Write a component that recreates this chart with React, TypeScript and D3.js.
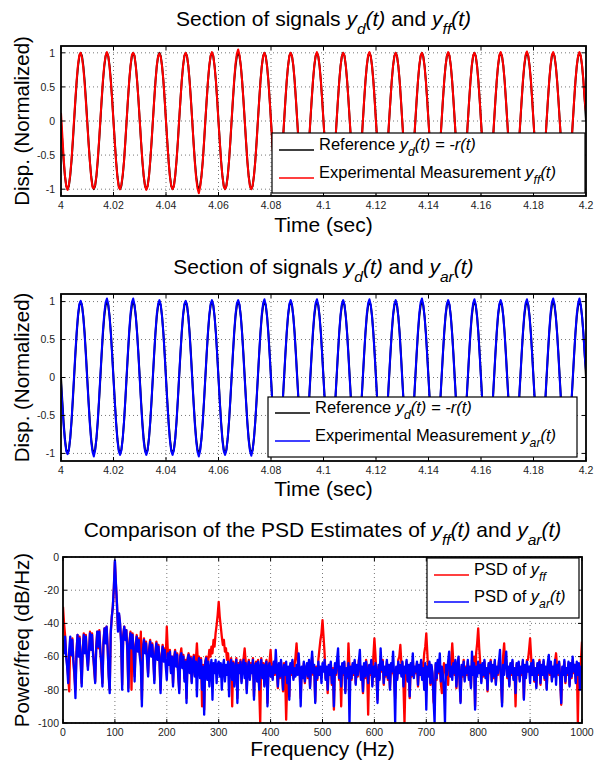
import React from 'react';
import * as d3 from 'd3';

const FONT = '"Liberation Sans", Arial, Helvetica, sans-serif';

// ---- time-domain section, samples every 0.5 ms from 4.0 s to 4.2 s ----
const refSignal = [
  0, -0.31, -0.59, -0.81, -0.95, -1, -0.95, -0.81, -0.59, -0.31, 0, 0.31, 0.59, 0.81, 0.95, 1, 0.95, 0.81, 0.59, 0.31,
  0, -0.31, -0.59, -0.81, -0.95, -1, -0.95, -0.81, -0.59, -0.31, 0, 0.31, 0.59, 0.81, 0.95, 1, 0.95, 0.81, 0.59, 0.31,
  0, -0.31, -0.59, -0.81, -0.95, -1, -0.95, -0.81, -0.59, -0.31, 0, 0.31, 0.59, 0.81, 0.95, 1, 0.95, 0.81, 0.59, 0.31,
  0, -0.31, -0.59, -0.81, -0.95, -1, -0.95, -0.81, -0.59, -0.31, 0, 0.31, 0.59, 0.81, 0.95, 1, 0.95, 0.81, 0.59, 0.31,
  0, -0.31, -0.59, -0.81, -0.95, -1, -0.95, -0.81, -0.59, -0.31, 0, 0.31, 0.59, 0.81, 0.95, 1, 0.95, 0.81, 0.59, 0.31,
  0, -0.31, -0.59, -0.81, -0.95, -1, -0.95, -0.81, -0.59, -0.31, 0, 0.31, 0.59, 0.81, 0.95, 1, 0.95, 0.81, 0.59, 0.31,
  0, -0.31, -0.59, -0.81, -0.95, -1, -0.95, -0.81, -0.59, -0.31, 0, 0.31, 0.59, 0.81, 0.95, 1, 0.95, 0.81, 0.59, 0.31,
  0, -0.31, -0.59, -0.81, -0.95, -1, -0.95, -0.81, -0.59, -0.31, 0, 0.31, 0.59, 0.81, 0.95, 1, 0.95, 0.81, 0.59, 0.31,
  0, -0.31, -0.59, -0.81, -0.95, -1, -0.95, -0.81, -0.59, -0.31, 0, 0.31, 0.59, 0.81, 0.95, 1, 0.95, 0.81, 0.59, 0.31,
  0, -0.31, -0.59, -0.81, -0.95, -1, -0.95, -0.81, -0.59, -0.31, 0, 0.31, 0.59, 0.81, 0.95, 1, 0.95, 0.81, 0.59, 0.31,
  0, -0.31, -0.59, -0.81, -0.95, -1, -0.95, -0.81, -0.59, -0.31, 0, 0.31, 0.59, 0.81, 0.95, 1, 0.95, 0.81, 0.59, 0.31,
  0, -0.31, -0.59, -0.81, -0.95, -1, -0.95, -0.81, -0.59, -0.31, 0, 0.31, 0.59, 0.81, 0.95, 1, 0.95, 0.81, 0.59, 0.31,
  0, -0.31, -0.59, -0.81, -0.95, -1, -0.95, -0.81, -0.59, -0.31, 0, 0.31, 0.59, 0.81, 0.95, 1, 0.95, 0.81, 0.59, 0.31,
  0, -0.31, -0.59, -0.81, -0.95, -1, -0.95, -0.81, -0.59, -0.31, 0, 0.31, 0.59, 0.81, 0.95, 1, 0.95, 0.81, 0.59, 0.31,
  0, -0.31, -0.59, -0.81, -0.95, -1, -0.95, -0.81, -0.59, -0.31, 0, 0.31, 0.59, 0.81, 0.95, 1, 0.95, 0.81, 0.59, 0.31,
  0, -0.31, -0.59, -0.81, -0.95, -1, -0.95, -0.81, -0.59, -0.31, 0, 0.31, 0.59, 0.81, 0.95, 1, 0.95, 0.81, 0.59, 0.31,
  0, -0.31, -0.59, -0.81, -0.95, -1, -0.95, -0.81, -0.59, -0.31, 0, 0.31, 0.59, 0.81, 0.95, 1, 0.95, 0.81, 0.59, 0.31,
  0, -0.31, -0.59, -0.81, -0.95, -1, -0.95, -0.81, -0.59, -0.31, 0, 0.31, 0.59, 0.81, 0.95, 1, 0.95, 0.81, 0.59, 0.31,
  0, -0.31, -0.59, -0.81, -0.95, -1, -0.95, -0.81, -0.59, -0.31, 0, 0.31, 0.59, 0.81, 0.95, 1, 0.95, 0.81, 0.59, 0.31,
  0, -0.31, -0.59, -0.81, -0.95, -1, -0.95, -0.81, -0.59, -0.31, 0, 0.31, 0.59, 0.81, 0.95, 1, 0.95, 0.81, 0.59, 0.31,
  0,
];

const ffSignal = [
  0.12, -0.2, -0.53, -0.8, -0.96, -1.01, -0.94, -0.79, -0.57, -0.28, 0.04, 0.34, 0.62, 0.84, 0.97, 1.0, 0.93, 0.78, 0.55, 0.27,
  -0.03, -0.33, -0.6, -0.83, -0.97, -0.99, -0.94, -0.8, -0.56, -0.29, 0.02, 0.33, 0.61, 0.83, 0.96, 1.01, 0.95, 0.79, 0.57, 0.3,
  -0.02, -0.32, -0.61, -0.83, -0.97, -1.0, -0.93, -0.79, -0.6, -0.3, 0.01, 0.32, 0.6, 0.82, 0.97, 1.0, 0.96, 0.8, 0.58, 0.32,
  0.01, -0.3, -0.58, -0.8, -0.95, -1.01, -0.96, -0.82, -0.58, -0.3, 0, 0.3, 0.58, 0.82, 0.95, 0.99, 0.94, 0.8, 0.6, 0.31,
  -0.01, -0.31, -0.6, -0.82, -0.95, -1.0, -0.96, -0.8, -0.58, -0.32, 0.01, 0.31, 0.59, 0.8, 0.96, 1.0, 0.95, 0.81, 0.58, 0.3,
  0, -0.33, -0.62, -0.85, -0.99, -1.06, -0.97, -0.82, -0.6, -0.3, 0.02, 0.31, 0.6, 0.82, 0.96, 1.01, 0.96, 0.8, 0.6, 0.3,
  -0.02, -0.31, -0.6, -0.81, -0.96, -1.0, -0.95, -0.82, -0.59, -0.3, 0.02, 0.33, 0.62, 0.85, 0.99, 1.05, 0.97, 0.81, 0.58, 0.3,
  0, -0.3, -0.6, -0.82, -0.96, -1.0, -0.95, -0.8, -0.6, -0.32, 0, 0.3, 0.59, 0.8, 0.95, 1.0, 0.94, 0.8, 0.59, 0.3,
  -0.01, -0.32, -0.6, -0.81, -0.95, -1.01, -0.95, -0.81, -0.58, -0.3, 0.01, 0.32, 0.6, 0.81, 0.96, 1.0, 0.95, 0.82, 0.6, 0.31,
  0, -0.31, -0.59, -0.8, -0.94, -0.99, -0.94, -0.8, -0.58, -0.3, 0.02, 0.32, 0.6, 0.82, 0.96, 1.01, 0.95, 0.8, 0.58, 0.3,
  -0.01, -0.32, -0.6, -0.82, -0.96, -1.0, -0.94, -0.81, -0.59, -0.31, 0.01, 0.31, 0.58, 0.81, 0.95, 1.0, 0.96, 0.81, 0.59, 0.31,
  0.01, -0.3, -0.59, -0.81, -0.95, -0.99, -0.95, -0.81, -0.6, -0.31, 0, 0.32, 0.6, 0.82, 0.97, 1.01, 0.95, 0.8, 0.58, 0.29,
  -0.02, -0.32, -0.61, -0.82, -0.96, -1.01, -0.95, -0.8, -0.58, -0.3, 0.01, 0.31, 0.59, 0.81, 0.95, 1.0, 0.95, 0.81, 0.6, 0.31,
  0, -0.31, -0.6, -0.81, -0.95, -1.0, -0.96, -0.82, -0.59, -0.3, 0.02, 0.33, 0.6, 0.82, 0.96, 1.0, 0.94, 0.8, 0.58, 0.3,
  -0.01, -0.31, -0.59, -0.8, -0.95, -1.0, -0.94, -0.8, -0.58, -0.31, 0.01, 0.32, 0.6, 0.81, 0.96, 1.01, 0.96, 0.81, 0.59, 0.3,
  0, -0.32, -0.6, -0.82, -0.96, -1.01, -0.95, -0.81, -0.6, -0.31, 0, 0.31, 0.59, 0.82, 0.96, 1.0, 0.95, 0.8, 0.58, 0.31,
  -0.01, -0.31, -0.59, -0.81, -0.95, -0.99, -0.94, -0.8, -0.59, -0.3, 0.01, 0.32, 0.6, 0.82, 0.97, 1.01, 0.95, 0.81, 0.59, 0.3,
  0, -0.31, -0.6, -0.82, -0.96, -1.0, -0.95, -0.81, -0.58, -0.3, 0.02, 0.32, 0.61, 0.83, 0.97, 1.02, 0.96, 0.81, 0.6, 0.31,
  -0.01, -0.32, -0.6, -0.82, -0.96, -1.01, -0.95, -0.8, -0.59, -0.31, 0.01, 0.32, 0.6, 0.82, 0.97, 1.01, 0.95, 0.8, 0.58, 0.3,
  0, -0.31, -0.59, -0.81, -0.95, -1.0, -0.95, -0.81, -0.59, -0.3, 0.01, 0.32, 0.6, 0.82, 0.96, 1.01, 0.96, 0.82, 0.6, 0.31,
  0.14,
];

const arSignal = [
  -0.08, -0.36, -0.63, -0.84, -0.97, -1.01, -0.96, -0.8, -0.57, -0.27, 0.04, 0.35, 0.62, 0.84, 0.97, 1.01, 0.95, 0.79, 0.56, 0.27,
  -0.04, -0.34, -0.62, -0.84, -0.98, -1.04, -0.96, -0.8, -0.57, -0.28, 0.03, 0.34, 0.63, 0.85, 0.99, 1.04, 0.97, 0.8, 0.57, 0.28,
  -0.03, -0.33, -0.61, -0.83, -0.97, -1.02, -0.96, -0.81, -0.58, -0.29, 0.03, 0.34, 0.63, 0.85, 0.99, 1.04, 0.96, 0.8, 0.57, 0.29,
  -0.03, -0.34, -0.62, -0.84, -0.97, -1.02, -0.96, -0.8, -0.58, -0.29, 0.02, 0.33, 0.61, 0.84, 0.97, 1.02, 0.96, 0.8, 0.58, 0.29,
  -0.03, -0.33, -0.61, -0.83, -0.97, -1.02, -0.96, -0.81, -0.58, -0.29, 0.02, 0.33, 0.61, 0.83, 0.97, 1.01, 0.96, 0.8, 0.57, 0.28,
  -0.03, -0.34, -0.62, -0.84, -0.98, -1.04, -0.97, -0.81, -0.58, -0.29, 0.02, 0.33, 0.61, 0.83, 0.97, 1.02, 0.96, 0.8, 0.58, 0.29,
  -0.02, -0.33, -0.61, -0.83, -0.97, -1.02, -0.96, -0.8, -0.58, -0.29, 0.02, 0.33, 0.62, 0.84, 0.98, 1.02, 0.96, 0.8, 0.57, 0.28,
  -0.03, -0.33, -0.61, -0.83, -0.97, -1.03, -0.96, -0.8, -0.58, -0.29, 0.02, 0.33, 0.61, 0.84, 0.98, 1.03, 0.96, 0.8, 0.57, 0.29,
  -0.02, -0.33, -0.61, -0.83, -0.96, -1.01, -0.96, -0.8, -0.58, -0.29, 0.02, 0.33, 0.61, 0.83, 0.97, 1.02, 0.96, 0.8, 0.57, 0.28,
  -0.03, -0.33, -0.61, -0.83, -0.97, -1.02, -0.96, -0.81, -0.58, -0.29, 0.03, 0.34, 0.62, 0.84, 0.98, 1.03, 0.96, 0.8, 0.58, 0.29,
  -0.02, -0.33, -0.61, -0.84, -0.97, -1.02, -0.96, -0.8, -0.58, -0.29, 0.02, 0.33, 0.61, 0.83, 0.97, 1.02, 0.96, 0.8, 0.57, 0.28,
  -0.03, -0.33, -0.61, -0.83, -0.97, -1.01, -0.96, -0.8, -0.58, -0.29, 0.02, 0.33, 0.61, 0.84, 0.98, 1.03, 0.96, 0.8, 0.57, 0.29,
  -0.02, -0.33, -0.62, -0.84, -0.97, -1.02, -0.96, -0.81, -0.58, -0.29, 0.02, 0.33, 0.61, 0.83, 0.97, 1.02, 0.96, 0.8, 0.58, 0.29,
  -0.03, -0.33, -0.61, -0.83, -0.97, -1.02, -0.96, -0.8, -0.58, -0.29, 0.03, 0.34, 0.62, 0.85, 0.99, 1.04, 0.96, 0.8, 0.57, 0.28,
  -0.02, -0.33, -0.61, -0.83, -0.97, -1.03, -0.96, -0.8, -0.58, -0.29, 0.02, 0.33, 0.61, 0.83, 0.97, 1.02, 0.96, 0.8, 0.57, 0.29,
  -0.03, -0.33, -0.61, -0.83, -0.97, -1.02, -0.96, -0.81, -0.58, -0.29, 0.02, 0.33, 0.62, 0.84, 0.98, 1.03, 0.96, 0.8, 0.58, 0.29,
  -0.02, -0.33, -0.61, -0.83, -0.97, -1.02, -0.96, -0.8, -0.58, -0.29, 0.02, 0.33, 0.61, 0.84, 0.97, 1.02, 0.96, 0.8, 0.57, 0.28,
  -0.03, -0.33, -0.61, -0.83, -0.97, -1.01, -0.96, -0.8, -0.58, -0.29, 0.02, 0.33, 0.61, 0.84, 0.98, 1.03, 0.96, 0.8, 0.57, 0.29,
  -0.02, -0.33, -0.61, -0.83, -0.97, -1.02, -0.96, -0.81, -0.58, -0.29, 0.03, 0.34, 0.62, 0.85, 0.99, 1.04, 0.97, 0.8, 0.57, 0.28,
  -0.03, -0.33, -0.61, -0.83, -0.97, -1.02, -0.96, -0.8, -0.58, -0.29, 0.02, 0.33, 0.61, 0.84, 0.98, 1.04, 0.96, 0.8, 0.58, 0.29,
  0.1,
];

const timeTicks = [4, 4.02, 4.04, 4.06, 4.08, 4.1, 4.12, 4.14, 4.16, 4.18, 4.2];
const timeTickLabels = ['4', '4.02', '4.04', '4.06', '4.08', '4.1', '4.12', '4.14', '4.16', '4.18', '4.2'];
const dispTicks = [-1, -0.5, 0, 0.5, 1];
const dispTickLabels = ['-1', '-0.5', '0', '0.5', '1'];

// ---- PSD estimates in dB/Hz, one value every 2 Hz ----
const psdFfLow = [
  -30, -40, -47, -58, -65, -72, -81, -50, -57, -49,
  -63, -72, -80, -57, -47, -59, -48, -63, -76, -56,
  -46, -57, -47, -59, -66, -58, -45, -55, -46, -58,
  -68, -75, -54, -45, -55, -44, -56, -66, -76, -51,
  -43, -51, -42, -54, -70, -80, -45, -36, -30, -19,
  -3, -17, -29, -44, -35, -41, -50, -77, -47, -42,
  -49, -44, -57, -79, -51, -45, -80, -46, -57, -72,
  -53, -47, -56, -49, -59, -45, -86, -55, -49, -57,
  -51, -60, -70, -55, -50, -59, -52, -61, -74, -57,
  -51, -61, -53, -63, -80, -59, -53, -62, -55, -60,
  -42,
];
const psdFfMid = [
  -57, -64, -56, -69, -60, -76, -61, -56, -65, -58,
  -70, -80, -59, -55, -66, -59, -73, -62, -85, -61,
  -58, -69, -60, -75, -63, -59, -71, -62, -52, -64,
  -60, -72, -61, -90, -65, -92, -63, -60, -73, -62,
  -56, -60, -54, -58, -50, -54, -46, -41, -35, -27,
  -36, -42, -48, -53, -50, -57, -55, -62, -58, -66,
  -65, -61, -90, -63, -77, -66, -61, -85, -64, -69,
  -62, -75, -65, -61, -55, -63, -80, -66, -62, -73,
  -64, -69, -61, -84, -65, -63, -74, -62, -79, -100,
  -61, -72, -64, -77, -65, -62, -88, -65, -63, -56,
];
const psdFfHigh = [
  -67, -73, -64, -71, -62, -69, -79, -65, -73, -63, -70, -81, -64, -72, -98, -75, -67, -84, -65, -71, -63, -73, -66, -60, -52,
  -62, -70, -68, -85, -67, -72, -64, -76, -67, -65, -73, -63, -78, -67, -60, -71, -66, -87, -66, -74, -62, -56, -50, -46, -38,
  -48, -58, -73, -67, -82, -66, -70, -64, -77, -67, -92, -65, -71, -63, -62, -74, -67, -90, -65, -71, -64, -81, -68, -73, -52,
  -66, -67, -74, -65, -71, -63, -76, -66, -72, -62, -64, -73, -67, -82, -65, -73, -62, -68, -95, -66, -71, -63, -77, -60, -49,
  -59, -71, -86, -66, -73, -64, -69, -62, -77, -67, -72, -63, -74, -66, -79, -65, -70, -66, -73, -85, -67, -73, -62, -60, -53,
  -64, -64, -77, -100, -71, -63, -74, -66, -85, -65, -72, -62, -72, -67, -70, -64, -78, -66, -70, -63, -73, -66, -58, -54, -46,
  -58, -71, -64, -77, -66, -71, -87, -90, -65, -74, -63, -70, -67, -76, -82, -72, -64, -66, -73, -67, -77, -65, -71, -63, -52,
  -63, -71, -63, -79, -67, -61, -74, -87, -66, -72, -62, -74, -66, -71, -63, -73, -67, -78, -62, -70, -60, -90, -58, -52, -43,
  -55, -64, -75, -65, -72, -63, -72, -68, -81, -65, -70, -62, -74, -66, -73, -63, -76, -67, -71, -62, -62, -75, -88, -60, -52,
  -64, -62, -73, -67, -77, -65, -71, -63, -73, -68, -90, -65, -70, -64, -74, -67, -71, -63, -85, -66, -72, -62, -62, -56, -49,
  -60, -70, -63, -75, -68, -78, -65, -71, -62, -77, -66, -70, -63, -74, -67, -79, -65, -62, -71, -64, -74, -67, -71, -63, -58,
  -66, -71, -64, -73, -89, -67, -70, -63, -76, -68, -71, -64, -77, -65, -73, -62, -70, -66, -75, -64, -100, -65, -79, -62, -51,
];

const psdArLow = [
  -50, -58, -48, -60, -66, -76, -56, -48, -59, -50,
  -62, -70, -85, -58, -47, -60, -49, -62, -78, -57,
  -47, -58, -48, -60, -68, -57, -46, -56, -47, -59,
  -66, -76, -55, -45, -54, -45, -57, -64, -78, -52,
  -43, -52, -42, -55, -72, -82, -46, -36, -30, -18,
  -2, -16, -28, -45, -34, -40, -52, -80, -48, -42,
  -50, -44, -56, -81, -52, -46, -55, -47, -58, -75,
  -54, -48, -57, -50, -60, -66, -90, -56, -50, -58,
  -52, -62, -72, -56, -51, -60, -53, -62, -76, -58,
  -52, -62, -54, -64, -82, -60, -54, -63, -56, -66,
  -74,
];
const psdArMid = [
  -58, -65, -57, -70, -60, -78, -62, -57, -66, -59,
  -72, -82, -60, -58, -67, -60, -75, -63, -88, -62,
  -59, -70, -61, -76, -64, -60, -72, -63, -84, -65,
  -61, -73, -62, -80, -66, -95, -64, -61, -74, -63,
  -78, -67, -62, -86, -64, -70, -62, -76, -65, -63,
  -72, -64, -80, -66, -62, -75, -65, -71, -63, -84,
  -66, -62, -74, -64, -78, -67, -62, -88, -65, -70,
  -63, -76, -66, -62, -73, -64, -82, -67, -63, -74,
  -65, -70, -62, -86, -66, -64, -75, -63, -80, -67,
  -62, -73, -65, -78, -66, -63, -90, -66, -64, -72,
];
const psdArHigh = [
  -66, -74, -63, -70, -56, -68, -78, -64, -72, -62, -69, -80, -65, -71, -63, -76, -66, -86, -64, -70, -62, -74, -67, -72, -65,
  -71, -58, -69, -90, -66, -73, -63, -75, -68, -64, -72, -62, -79, -66, -57, -70, -65, -88, -67, -73, -63, -71, -66, -76, -64,
  -69, -62, -74, -66, -80, -65, -71, -63, -76, -68, -90, -64, -70, -62, -55, -73, -66, -78, -64, -70, -63, -82, -67, -72, -64,
  -100, -66, -73, -64, -70, -62, -77, -65, -71, -63, -56, -74, -66, -81, -64, -72, -63, -69, -76, -65, -70, -62, -78, -66, -72,
  -64, -70, -88, -65, -74, -55, -68, -63, -76, -66, -71, -62, -73, -65, -80, -64, -69, -57, -72, -100, -66, -74, -63, -70, -65,
  -72, -63, -78, -66, -70, -62, -75, -65, -84, -64, -71, -58, -73, -66, -69, -63, -77, -65, -71, -62, -74, -67, -80, -64, -92,
  -66, -72, -63, -76, -65, -70, -86, -100, -64, -73, -62, -69, -58, -75, -66, -71, -80, -100, -65, -71, -63, -57, -72, -66, -74,
  -64, -70, -62, -78, -66, -60, -73, -88, -65, -71, -63, -75, -67, -70, -62, -74, -66, -79, -57, -71, -64, -92, -66, -72, -63,
  -70, -65, -76, -64, -71, -62, -73, -67, -80, -64, -69, -63, -75, -65, -72, -62, -77, -66, -70, -63, -56, -74, -90, -65, -71,
  -63, -57, -72, -66, -78, -64, -70, -62, -74, -67, -82, -64, -71, -63, -75, -66, -70, -62, -86, -65, -73, -63, -69, -66, -76,
  -64, -71, -62, -74, -67, -79, -64, -70, -63, -76, -65, -71, -62, -73, -66, -80, -64, -59, -70, -63, -75, -66, -72, -62, -77,
  -65, -70, -63, -74, -88, -66, -71, -62, -75, -67, -70, -63, -78, -64, -72, -60, -69, -65, -76, -63, -71, -64, -80, -66, -70,
];

const psdFf = [...psdFfLow, ...psdFfMid, ...psdFfHigh];
const psdAr = [...psdArLow, ...psdArMid, ...psdArHigh];

const freqTicks = [0, 100, 200, 300, 400, 500, 600, 700, 800, 900, 1000];
const psdTicks = [-100, -80, -60, -40, -20, 0];

type Part = { s: string; it?: boolean; sub?: boolean };

function Rich({ x, y, parts, size, anchor = 'start' }: { x: number; y: number; parts: Part[]; size: number; anchor?: string }) {
  let down = false;
  const shift = size * 0.38;
  return (
    <text x={x} y={y} fontSize={size} textAnchor={anchor} fontFamily={FONT} style={{ whiteSpace: 'pre' }}>
      {parts.map((p, i) => {
        let dy = 0;
        if (p.sub && !down) { dy = shift; down = true; }
        else if (!p.sub && down) { dy = -shift; down = false; }
        return (
          <tspan key={i} dy={dy || undefined} fontStyle={p.it ? 'italic' : undefined} fontSize={p.sub ? size * 0.74 : undefined}>
            {p.s}
          </tspan>
        );
      })}
    </text>
  );
}

type Series = { values: number[]; color: string };
type LegendItem = { color: string; parts: Part[] };

function Panel(props: {
  id: string;
  left: number; right: number; top: number; bottom: number;
  xDomain: [number, number]; yDomain: [number, number];
  xTicks: number[]; xLabels: string[]; yTicks: number[]; yLabels: string[];
  series: Series[]; lineWidth: number;
  title: Part[]; titleY: number;
  xTitle: string; xTitleY: number; yTitle: string;
  legend: { x: number; y: number; w: number; h: number; rows: number[]; items: LegendItem[] };
  tickLabelGap: number;
}) {
  const { left, right, top, bottom } = props;
  const x = d3.scaleLinear().domain(props.xDomain).range([left, right]);
  const y = d3.scaleLinear().domain(props.yDomain).range([bottom, top]);
  const tk = 4;
  const cx = (left + right) / 2;
  const cy = (top + bottom) / 2;
  const lg = props.legend;

  return (
    <g>
      <defs>
        <clipPath id={props.id}>
          <rect x={left} y={top} width={right - left} height={bottom - top} />
        </clipPath>
      </defs>
      {/* grid */}
      {props.xTicks.slice(1, -1).map((t) => (
        <line key={'gx' + t} x1={x(t)} x2={x(t)} y1={top} y2={bottom} stroke="#555" strokeWidth={0.8} strokeDasharray="1 3" />
      ))}
      {props.yTicks.map((t) => (
        <line key={'gy' + t} x1={left} x2={right} y1={y(t)} y2={y(t)} stroke="#555" strokeWidth={0.8} strokeDasharray="1 3" />
      ))}
      {/* data */}
      <g clipPath={`url(#${props.id})`}>
        {props.series.map((s, k) => {
          const n = s.values.length;
          const xs = s.values.map((_, i) => props.xDomain[0] + ((props.xDomain[1] - props.xDomain[0]) * i) / (n - 1));
          const path = d3.line<number>().x((_, i) => x(xs[i])).y((d) => y(d))(s.values) || '';
          return <path key={k} d={path} fill="none" stroke={s.color} strokeWidth={props.lineWidth} strokeLinejoin="round" />;
        })}
      </g>
      {/* ticks */}
      {props.xTicks.map((t) => (
        <g key={'tx' + t}>
          <line x1={x(t)} x2={x(t)} y1={bottom} y2={bottom - tk} stroke="#000" />
          <line x1={x(t)} x2={x(t)} y1={top} y2={top + tk} stroke="#000" />
        </g>
      ))}
      {props.yTicks.map((t) => (
        <g key={'ty' + t}>
          <line x1={left} x2={left + tk} y1={y(t)} y2={y(t)} stroke="#000" />
          <line x1={right} x2={right - tk} y1={y(t)} y2={y(t)} stroke="#000" />
        </g>
      ))}
      <rect x={left} y={top} width={right - left} height={bottom - top} fill="none" stroke="#000" strokeWidth={1.8} />
      {/* tick labels */}
      {props.xTicks.map((t, i) => (
        <text key={'lx' + t} x={x(t)} y={bottom + 12.5} fontSize={10.5} textAnchor="middle" fontFamily={FONT} fill="#222">
          {props.xLabels[i]}
        </text>
      ))}
      {props.yTicks.map((t, i) => (
        <text key={'ly' + t} x={left - props.tickLabelGap} y={y(t) + 3.8} fontSize={10.5} textAnchor="end" fontFamily={FONT} fill="#222">
          {props.yLabels[i]}
        </text>
      ))}
      {/* titles */}
      <Rich x={cx} y={props.titleY} parts={props.title} size={21} anchor="middle" />
      <text x={cx} y={props.xTitleY} fontSize={21} textAnchor="middle" fontFamily={FONT}>{props.xTitle}</text>
      <text transform={`translate(29,${cy}) rotate(-90)`} fontSize={20.5} textAnchor="middle" fontFamily={FONT}>{props.yTitle}</text>
      {/* legend */}
      <rect x={lg.x} y={lg.y} width={lg.w} height={lg.h} fill="#fff" stroke="#000" strokeWidth={1.2} />
      {lg.items.map((it, i) => (
        <g key={'lg' + i}>
          <line x1={lg.x + 7} x2={lg.x + 42} y1={lg.rows[i]} y2={lg.rows[i]} stroke={it.color} strokeWidth={1.4} />
          <Rich x={lg.x + 47} y={lg.rows[i]} parts={it.parts} size={16.5} />
        </g>
      ))}
    </g>
  );
}

const refLegend: Part[] = [{ s: 'Reference ' }, { s: 'y', it: true }, { s: 'd', it: true, sub: true }, { s: '(t) = -r(t)', it: true }];

export default function App() {
  return (
    <svg width={594} height={765} style={{ position: 'absolute', left: 0, top: 0, background: '#fff' }}>
      <Panel
        id="c1" left={61} right={586} top={46} bottom={196}
        xDomain={[4, 4.2]} yDomain={[-1.1, 1.1]}
        xTicks={timeTicks} xLabels={timeTickLabels} yTicks={dispTicks} yLabels={dispTickLabels}
        series={[{ values: refSignal, color: '#000' }, { values: ffSignal, color: '#f00' }]} lineWidth={2}
        title={[{ s: 'Section of signals ' }, { s: 'y', it: true }, { s: 'd', it: true, sub: true }, { s: '(t)', it: true }, { s: ' and ' }, { s: 'y', it: true }, { s: 'ff', it: true, sub: true }, { s: '(t)', it: true }]}
        titleY={26}
        xTitle="Time (sec)" xTitleY={232} yTitle="Disp. (Normalized)"
        tickLabelGap={6}
        legend={{
          x: 272, y: 133, w: 313, h: 60, rows: [150, 178],
          items: [
            { color: '#000', parts: refLegend },
            { color: '#f00', parts: [{ s: 'Experimental Measurement ' }, { s: 'y', it: true }, { s: 'ff', it: true, sub: true }, { s: '(t)', it: true }] },
          ],
        }}
      />
      <Panel
        id="c2" left={61} right={586} top={294} bottom={461}
        xDomain={[4, 4.2]} yDomain={[-1.1, 1.1]}
        xTicks={timeTicks} xLabels={timeTickLabels} yTicks={dispTicks} yLabels={dispTickLabels}
        series={[{ values: refSignal, color: '#000' }, { values: arSignal, color: '#00f' }]} lineWidth={2}
        title={[{ s: 'Section of signals ' }, { s: 'y', it: true }, { s: 'd', it: true, sub: true }, { s: '(t)', it: true }, { s: ' and ' }, { s: 'y', it: true }, { s: 'ar', it: true, sub: true }, { s: '(t)', it: true }]}
        titleY={274}
        xTitle="Time (sec)" xTitleY={495.5} yTitle="Disp. (Normalized)"
        tickLabelGap={6}
        legend={{
          x: 268, y: 397, w: 309, h: 60, rows: [413, 441],
          items: [
            { color: '#000', parts: refLegend },
            { color: '#00f', parts: [{ s: 'Experimental Measurement ' }, { s: 'y', it: true }, { s: 'ar', it: true, sub: true }, { s: '(t)', it: true }] },
          ],
        }}
      />
      <Panel
        id="c3" left={63} right={582} top={557} bottom={723}
        xDomain={[0, 1000]} yDomain={[-100, 0]}
        xTicks={freqTicks} xLabels={freqTicks.map(String)} yTicks={psdTicks} yLabels={psdTicks.map(String)}
        series={[{ values: psdFf, color: '#f00' }, { values: psdAr, color: '#00f' }]} lineWidth={2.3}
        title={[{ s: 'Comparison of the PSD Estimates of ' }, { s: 'y', it: true }, { s: 'ff', it: true, sub: true }, { s: '(t)', it: true }, { s: ' and ' }, { s: 'y', it: true }, { s: 'ar', it: true, sub: true }, { s: '(t)', it: true }]}
        titleY={537}
        xTitle="Frequency (Hz)" xTitleY={756} yTitle="Power/freq (dB/Hz)"
        tickLabelGap={4}
        legend={{
          x: 427, y: 558, w: 152, h: 60, rows: [575, 602],
          items: [
            { color: '#f00', parts: [{ s: 'PSD of ' }, { s: 'y', it: true }, { s: 'ff', it: true, sub: true }] },
            { color: '#00f', parts: [{ s: 'PSD of ' }, { s: 'y', it: true }, { s: 'ar', it: true, sub: true }, { s: '(t)', it: true }] },
          ],
        }}
      />
    </svg>
  );
}
